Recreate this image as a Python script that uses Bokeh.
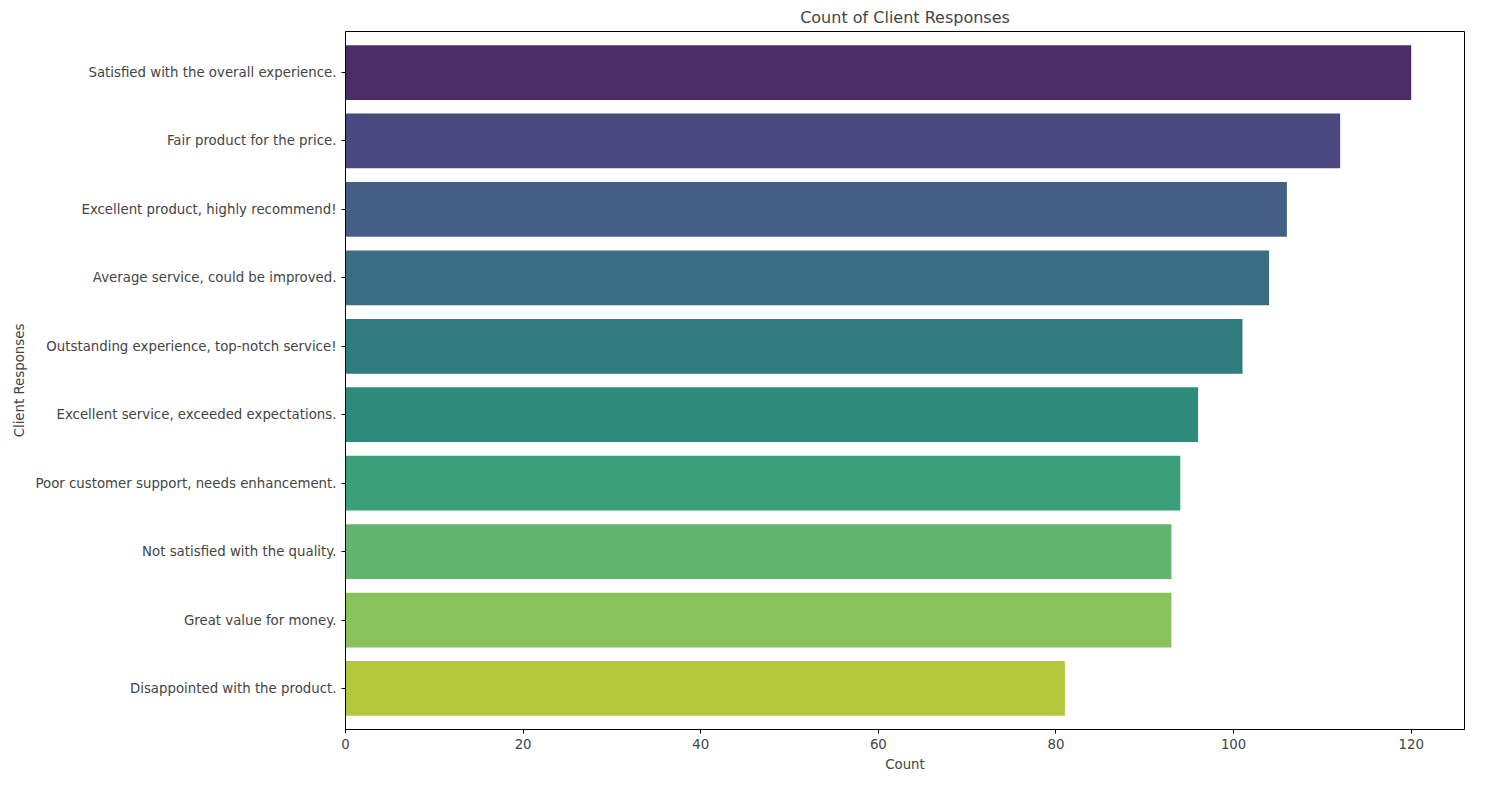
from bokeh.plotting import figure
from bokeh.models import ColumnDataSource, FactorRange, FixedTicker
from bokeh.embed import file_html
from bokeh.resources import INLINE

responses = [
    "Satisfied with the overall experience.",
    "Fair product for the price.",
    "Excellent product, highly recommend!",
    "Average service, could be improved.",
    "Outstanding experience, top-notch service!",
    "Excellent service, exceeded expectations.",
    "Poor customer support, needs enhancement.",
    "Not satisfied with the quality.",
    "Great value for money.",
    "Disappointed with the product.",
]
counts = [120, 112, 106, 104, 101, 96, 94, 93, 93, 81]
colors = ["#4C2B69", "#4A487F", "#435E87", "#3A6C82", "#2F7B7E",
          "#2E8B7B", "#3BA07A", "#62B56F", "#88C25B", "#B2C83A"]

src = ColumnDataSource(dict(resp=responses, count=counts, color=colors))

p = figure(width=1473, height=774, output_backend="svg", toolbar_location=None,
           y_range=FactorRange(*responses[::-1]), x_range=(0, 126),
           title="Count of Client Responses",
           min_border_left=345, min_border_right=9, min_border_top=24, min_border_bottom=44)
p.hbar(y="resp", right="count", left=0, height=0.8, fill_color="color",
       line_color=None, source=src)

p.title.align = "center"
p.title.text_font = "DejaVu Sans"
p.title.text_font_style = "normal"
p.title.text_font_size = "12pt"
p.xaxis.axis_label = "Count"
p.yaxis.axis_label = "Client Responses"
for ax in (p.xaxis, p.yaxis):
    ax.axis_label_text_font = "DejaVu Sans"
    ax.axis_label_text_font_style = "normal"
    ax.axis_label_text_font_size = "10pt"
    ax.major_label_text_font = "DejaVu Sans"
    ax.major_label_text_font_size = "10pt"
    ax.minor_tick_line_color = None
    ax.major_tick_out = 4
    ax.major_tick_in = 0
p.xaxis.ticker = FixedTicker(ticks=[0, 20, 40, 60, 80, 100, 120])
p.y_range.range_padding = 0.02
p.xgrid.grid_line_color = None
p.ygrid.grid_line_color = None
p.outline_line_color = "black"
p.outline_line_alpha = 1

open("out.html", "w").write(file_html(p, INLINE))
